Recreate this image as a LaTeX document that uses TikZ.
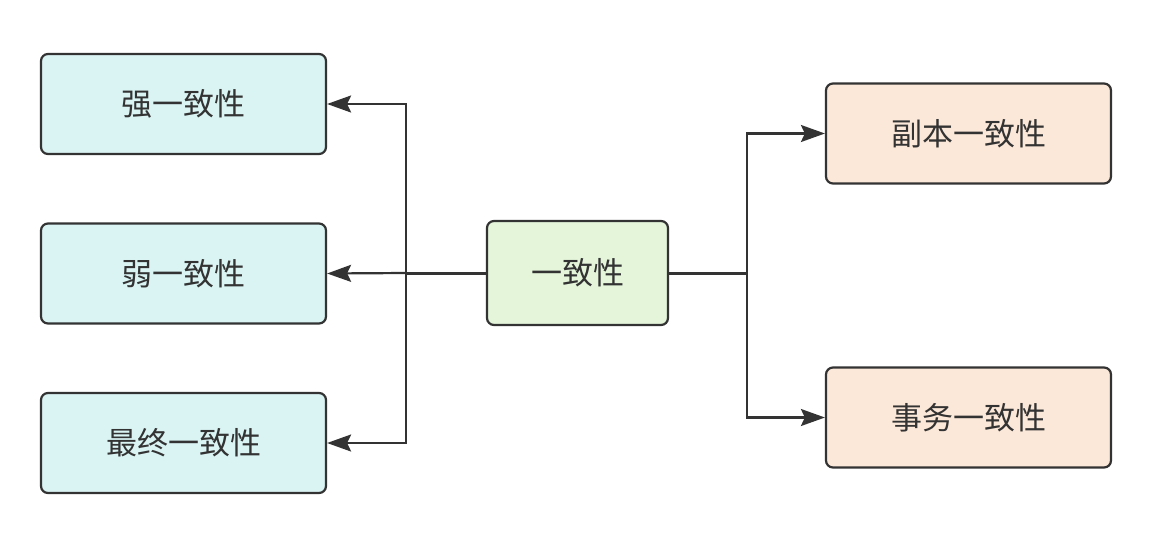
\documentclass[tikz,border=0pt]{standalone}
\usepackage{fontspec}
\newfontfamily\cjk{Noto Sans CJK SC}
\usetikzlibrary{arrows.meta}
\definecolor{boxline}{HTML}{333333}
\definecolor{bluefill}{HTML}{DAF4F4}
\definecolor{greenfill}{HTML}{E4F5DA}
\definecolor{orangefill}{HTML}{FCE8D8}
\tikzset{
  box/.style={draw=boxline, line width=2.2pt, rounded corners=7pt, minimum width=285pt, minimum height=100pt, inner sep=0pt, font=\cjk\fontsize{31}{36}\selectfont, text=boxline},
  conn/.style={draw=boxline, line width=2.2pt, -{Stealth[length=24pt,width=17pt,inset=4pt]}},
  trunk/.style={draw=boxline, line width=3pt}
}
\begin{document}
\begin{tikzpicture}[x=1pt,y=-1pt]
\useasboundingbox (0,0) rectangle (1158,533);
\node[box, fill=bluefill] (s) at (183.5,104) {强一致性};
\node[box, fill=bluefill] (w) at (183.5,273.5) {弱一致性};
\node[box, fill=bluefill] (e) at (183.5,443) {最终一致性};
\node[box, fill=greenfill, minimum width=181pt, minimum height=104pt] (c) at (577.5,273) {一致性};
\node[box, fill=orangefill] (r) at (968.5,133.5) {副本一致性};
\node[box, fill=orangefill] (t) at (968.5,417.5) {事务一致性};
\coordinate (lj) at (406,273);
\coordinate (rj) at (747,273);
\draw[trunk] (c.west) -- (lj);
\draw[trunk] (c.east) -- (rj);
\draw[conn] (lj) |- (s.east);
\draw[conn] (lj) -- (w.east);
\draw[conn] (lj) |- (e.east);
\draw[conn] (rj) |- (r.west);
\draw[conn] (rj) |- (t.west);
\end{tikzpicture}
\end{document}
